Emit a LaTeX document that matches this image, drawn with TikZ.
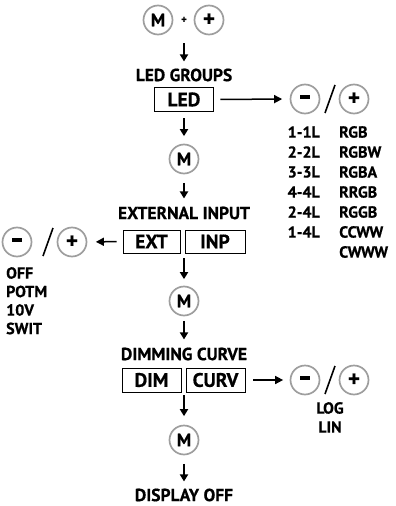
\documentclass[tikz,border=0pt]{standalone}
\usepackage{fontspec}
\setmainfont{PT Sans}[BoldFeatures={FakeBold=0.6}]
\usetikzlibrary{arrows.meta}
\begin{document}
\begin{tikzpicture}[x=1pt,y=-1pt,
 btn/.style={circle,draw=black!38,line width=1.7pt,minimum size=29pt,inner sep=0pt,font=\bfseries\fontsize{18}{18}\selectfont},
 keybox/.style={draw,line width=0.9pt,minimum height=24pt,inner sep=0pt,font=\bfseries\fontsize{19.5}{19.5}\selectfont},
 hdr/.style={font=\bfseries\fontsize{17.5}{17.5}\selectfont,inner sep=0pt},
 lst/.style={font=\bfseries\fontsize{16}{16}\selectfont,inner sep=0pt},
 flow/.style={-{Triangle[width=8pt,length=7pt]},line width=1.8pt},
 hflow/.style={-{Triangle[width=8pt,length=8pt]},line width=1.5pt},
 slash/.style={line width=1.6pt},
]
\useasboundingbox (0,0) rectangle (396,506);
\newcommand{\minussign}{\rule[0.22em]{0.55em}{0.2em}}
% top
\node[btn] (mtop) at (158,20) {M};
\node[inner sep=0pt,font=\bfseries\fontsize{11}{11}\selectfont] (plusS) at (184,20) {+};
\node[btn,font=\bfseries\fontsize{23}{23}\selectfont] (ptop) at (209,20) {+};
\node[hdr] (ledhdr) at (184,75) {LED GROUPS};
\draw[flow,shorten <=20pt,shorten >=7pt] (plusS.south) -- (ledhdr.north);
% LED
\node[keybox,minimum width=59pt] (led) at (184,99.5) {LED};
\node[btn] (mi1) at (305,99) {\minussign};
\node[btn,font=\bfseries\fontsize{23}{23}\selectfont] (pl1) at (354,99) {+};
\coordinate (s1a) at (325,113);
\coordinate (s1b) at (335,85);
\draw[slash] (s1a) -- (s1b);
\draw[hflow,shorten <=6.5pt,shorten >=7.5pt] (led.east) -- (mi1.west);
\foreach \t [count=\i] in {1-1L,2-2L,3-3L,4-4L,2-4L,1-4L}
  \node[lst,anchor=east] (n\i) at (320,{112+20*\i}) {\t};
\foreach \t [count=\i] in {RGB,RGBW,RGBA,RRGB,RGGB,CCWW,CWWW}
  \node[lst,anchor=west] (c\i) at (339,{112+20*\i}) {\t};
% M2
\node[btn] (m2) at (184,159) {M};
\draw[flow,shorten <=6.5pt,shorten >=7.5pt] (led.south) -- (m2.north);
\node[hdr] (exthdr) at (184,213) {EXTERNAL INPUT};
\draw[flow,shorten <=8.5pt,shorten >=8pt] (m2.south) -- (exthdr.north);
\node[keybox,minimum width=57pt,minimum height=23pt] (ext) at (151.5,241.5) {EXT};
\node[keybox,minimum width=60pt,minimum height=23pt] (inp) at (215,241.5) {INP};
\coordinate (extgap) at (184,253);
\node[btn] (mi2) at (17,242) {\minussign};
\node[btn,font=\bfseries\fontsize{23}{23}\selectfont] (pl2) at (72,242) {+};
\coordinate (s2a) at (43,256);
\coordinate (s2b) at (53,228);
\draw[slash] (s2a) -- (s2b);
\draw[hflow,shorten <=6pt,shorten >=8.5pt] (ext.west) -- (pl2.east);
\foreach \t/\yy [count=\i] in {OFF/273,POTM/291.5,10V/310,SWIT/328.5}
  \node[lst,anchor=west] (o\i) at (6,\yy) {\t};
% M3
\node[btn] (m3) at (184,301) {M};
\draw[flow,shorten <=5pt,shorten >=6.5pt] (extgap) -- (m3.north);
\node[hdr] (dimhdr) at (184,354) {DIMMING CURVE};
\draw[flow,shorten <=4.5pt,shorten >=8pt] (m3.south) -- (dimhdr.north);
\node[keybox,minimum width=59pt] (dim) at (151.5,380) {DIM};
\node[keybox,minimum width=59pt] (curv) at (215.5,380) {CURV};
\coordinate (dimgap) at (184,392);
\node[btn] (mi3) at (305,380) {\minussign};
\node[btn,font=\bfseries\fontsize{23}{23}\selectfont] (pl3) at (354,380) {+};
\coordinate (s3a) at (325,394);
\coordinate (s3b) at (335,366);
\draw[slash] (s3a) -- (s3b);
\draw[hflow,shorten <=8pt,shorten >=6.5pt] (curv.east) -- (mi3.west);
\node[lst] (log) at (330,408) {LOG};
\node[lst] (lin) at (330,427) {LIN};
% M4
\node[btn] (m4) at (184,440) {M};
\draw[flow,shorten <=3pt,shorten >=8.5pt] (dimgap) -- (m4.north);
\node[hdr] (disp) at (184,495) {DISPLAY OFF};
\draw[flow,shorten <=8.5pt,shorten >=7pt] (m4.south) -- (disp.north);
\end{tikzpicture}
\end{document}
